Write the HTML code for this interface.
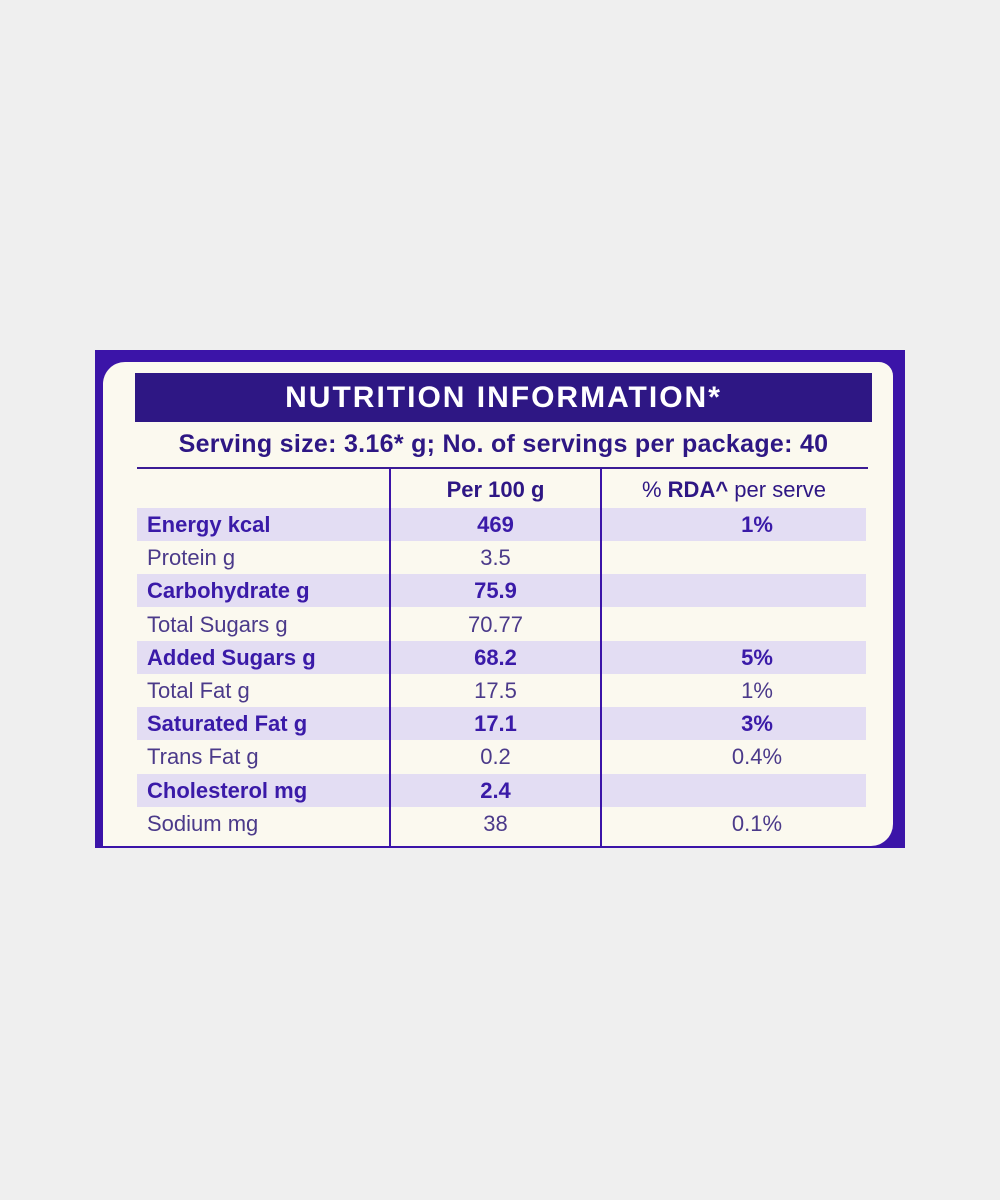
<!DOCTYPE html>
<html><head><meta charset="utf-8"><style>
body{margin:0;width:1000px;height:1200px;background:#efefef;position:relative;overflow:hidden;font-family:"Liberation Sans",sans-serif}
.a{position:absolute}
.row{position:absolute;left:137px;width:729px;height:33px}
.sh{background:#e3ddf3}
.t{position:absolute;color:#3b1c95;font-size:22px;line-height:33px;white-space:nowrap}
.b{font-weight:bold;color:#3a1aa8}
.l{color:#4b3a8a;font-weight:normal}
</style></head><body>
<div class="a" style="left:95px;top:350px;width:810px;height:498px;background:#3b14a8"></div>
<div class="a" style="left:103px;top:362px;width:790px;height:484px;background:#fbf9ef;border-radius:22px 14px 22px 0"></div>
<div class="a" style="left:135px;top:373px;width:737px;height:49px;background:#2e1784;color:#fff;font-weight:bold;font-size:30px;line-height:49px;text-align:center;letter-spacing:2px">NUTRITION INFORMATION*</div>
<div class="a" style="left:135px;top:428px;width:737px;text-align:center;color:#2e1784;font-size:25px;font-weight:bold;line-height:32px;letter-spacing:0.3px">Serving size: 3.16* g; No. of servings per package: 40</div>
<div class="a" style="left:137px;top:467px;width:731px;height:2px;background:#3b1c95"></div>
<div id="rows"></div>
<div class="a" style="left:389px;top:468px;width:2px;height:380px;background:#3b14a8"></div>
<div class="a" style="left:600px;top:468px;width:2px;height:380px;background:#3b14a8"></div>
<div class="t b" style="left:390px;width:211px;top:473px;text-align:center;color:#2e1784">Per 100 g</div>
<div class="t" style="left:602px;width:264px;top:473px;text-align:center;color:#2e1784">% <b>RDA^</b> per serve</div>
<script>
const nutrients=["Energy kcal","Protein g","Carbohydrate g","Total Sugars g","Added Sugars g","Total Fat g","Saturated Fat g","Trans Fat g","Cholesterol mg","Sodium mg"];
const per100=["469","3.5","75.9","70.77","68.2","17.5","17.1","0.2","2.4","38"];
const rda=["1%","","","","5%","1%","3%","0.4%","","0.1%"];
const c=document.getElementById('rows');
nutrients.forEach((n,i)=>{
 const y=508+i*33.2, bold=i%2===0;
 if(bold){const r=document.createElement('div');r.className='row sh';r.style.top=y+'px';
 
 
 c.appendChild(r);}
 const a=document.createElement('div');a.className='t '+(bold?'b':'l');a.style.left='147px';a.style.top=y+'px';a.textContent=n;
 
 
 c.appendChild(a);
 const v=document.createElement('div');v.className='t '+(bold?'b':'l');v.style.left='390px';v.style.width='211px';v.style.textAlign='center';v.style.top=y+'px';v.textContent=per100[i];
 
 
 c.appendChild(v);
 const d=document.createElement('div');d.className='t '+(bold?'b':'l');d.style.left='602px';d.style.width='310px';d.style.textAlign='center';d.style.top=y+'px';d.textContent=rda[i];
 
 
 c.appendChild(d);
});
</script>
</body></html>
